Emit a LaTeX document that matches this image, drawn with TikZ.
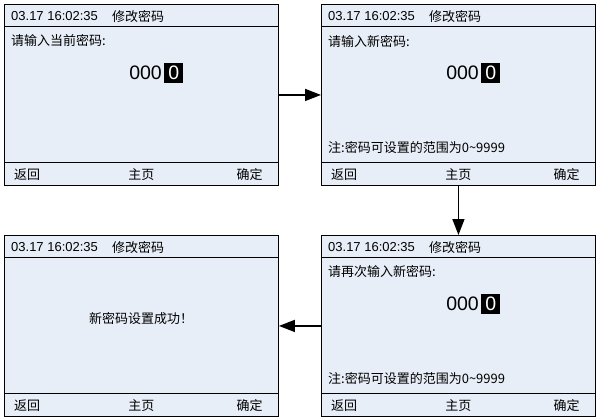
\documentclass[tikz,border=0pt]{standalone}
\usepackage{fontspec}
\setmainfont{Liberation Sans}
\newfontfamily\cjk{Noto Sans CJK SC}
\usetikzlibrary{arrows.meta}
\definecolor{scrfill}{HTML}{E8EEF7}

\begin{document}
\begin{tikzpicture}[x=1pt, y=-1pt,
    screen/.style={draw, fill=scrfill, line width=0.9pt, minimum width=274pt,
        minimum height=181pt, inner sep=0pt, anchor=north west},
    small/.style={font=\fontsize{13}{15}\selectfont, inner sep=0pt},
    big/.style={font=\fontsize{19.5}{21}\selectfont, inner sep=0pt},
    flow/.style={line width=1.6pt, -{Triangle[length=16pt,width=12pt]}}]
    \useasboundingbox (0,0) rectangle (598,420);

    % Ekranai
    \node[screen] (s1) at (4,4) {};
    \node[screen] (s2) at (321,4) {};
    \node[screen] (s3) at (4,235) {};
    \node[screen] (s4) at (321,235) {};

    % Antraste ir apacia
    \foreach \s in {s1,s2,s3,s4} {
        \draw[line width=0.9pt] ([shift={(0,22)}]\s.north west) -- ([shift={(0,22)}]\s.north east);
        \draw[line width=0.9pt] ([shift={(0,-23)}]\s.south west) -- ([shift={(0,-23)}]\s.south east);
        \node[small, anchor=west] (\s-time) at ([shift={(7,12)}]\s.north west) {03.17 16:02:35};
        \node[small, anchor=west] (\s-title) at ([shift={(108,13)}]\s.north west) {\cjk 修改密码};
        \node[small, anchor=west] (\s-back) at ([shift={(10,-11)}]\s.south west) {\cjk 返回};
        \node[small] (\s-home) at ([shift={(0,-11)}]\s.south) {\cjk 主页};
        \node[small, anchor=east] (\s-ok) at ([shift={(-16,-11)}]\s.south east) {\cjk 确定};
    }

    % Slaptazodzio laukas
    \foreach \s in {s1,s2,s4} {
        \node[big, anchor=east] (\s-num) at ([shift={(158,69)}]\s.north west) {000};
        \node[big, fill=black, text=white, minimum width=19pt, minimum height=20pt,
            anchor=west] (\s-cur) at ([shift={(160,69)}]\s.north west) {0};
    }
    \foreach \s in {s2,s4} {
        \node[small, anchor=west] (\s-note) at ([shift={(7,144)}]\s.north west) {\cjk 注:密码可设置的范围为0\textasciitilde9999};
    }

    \node[small, anchor=west] (s1-ask) at ([shift={(7,37)}]s1.north west) {\cjk 请输入当前密码:};
    \node[small, anchor=west] (s2-ask) at ([shift={(7,37)}]s2.north west) {\cjk 请输入新密码:};
    \node[small, anchor=west] (s4-ask) at ([shift={(7,37)}]s4.north west) {\cjk 请再次输入新密码:};
    \node[small] (s3-done) at ([shift={(137,84)}]s3.north west) {\cjk 新密码设置成功！};

    % Perejimai
    \draw[flow] (s1) -- (s2);
    \draw[flow] (s2) -- (s4);
    \draw[flow] (s4) -- (s3);
\end{tikzpicture}
\end{document}
